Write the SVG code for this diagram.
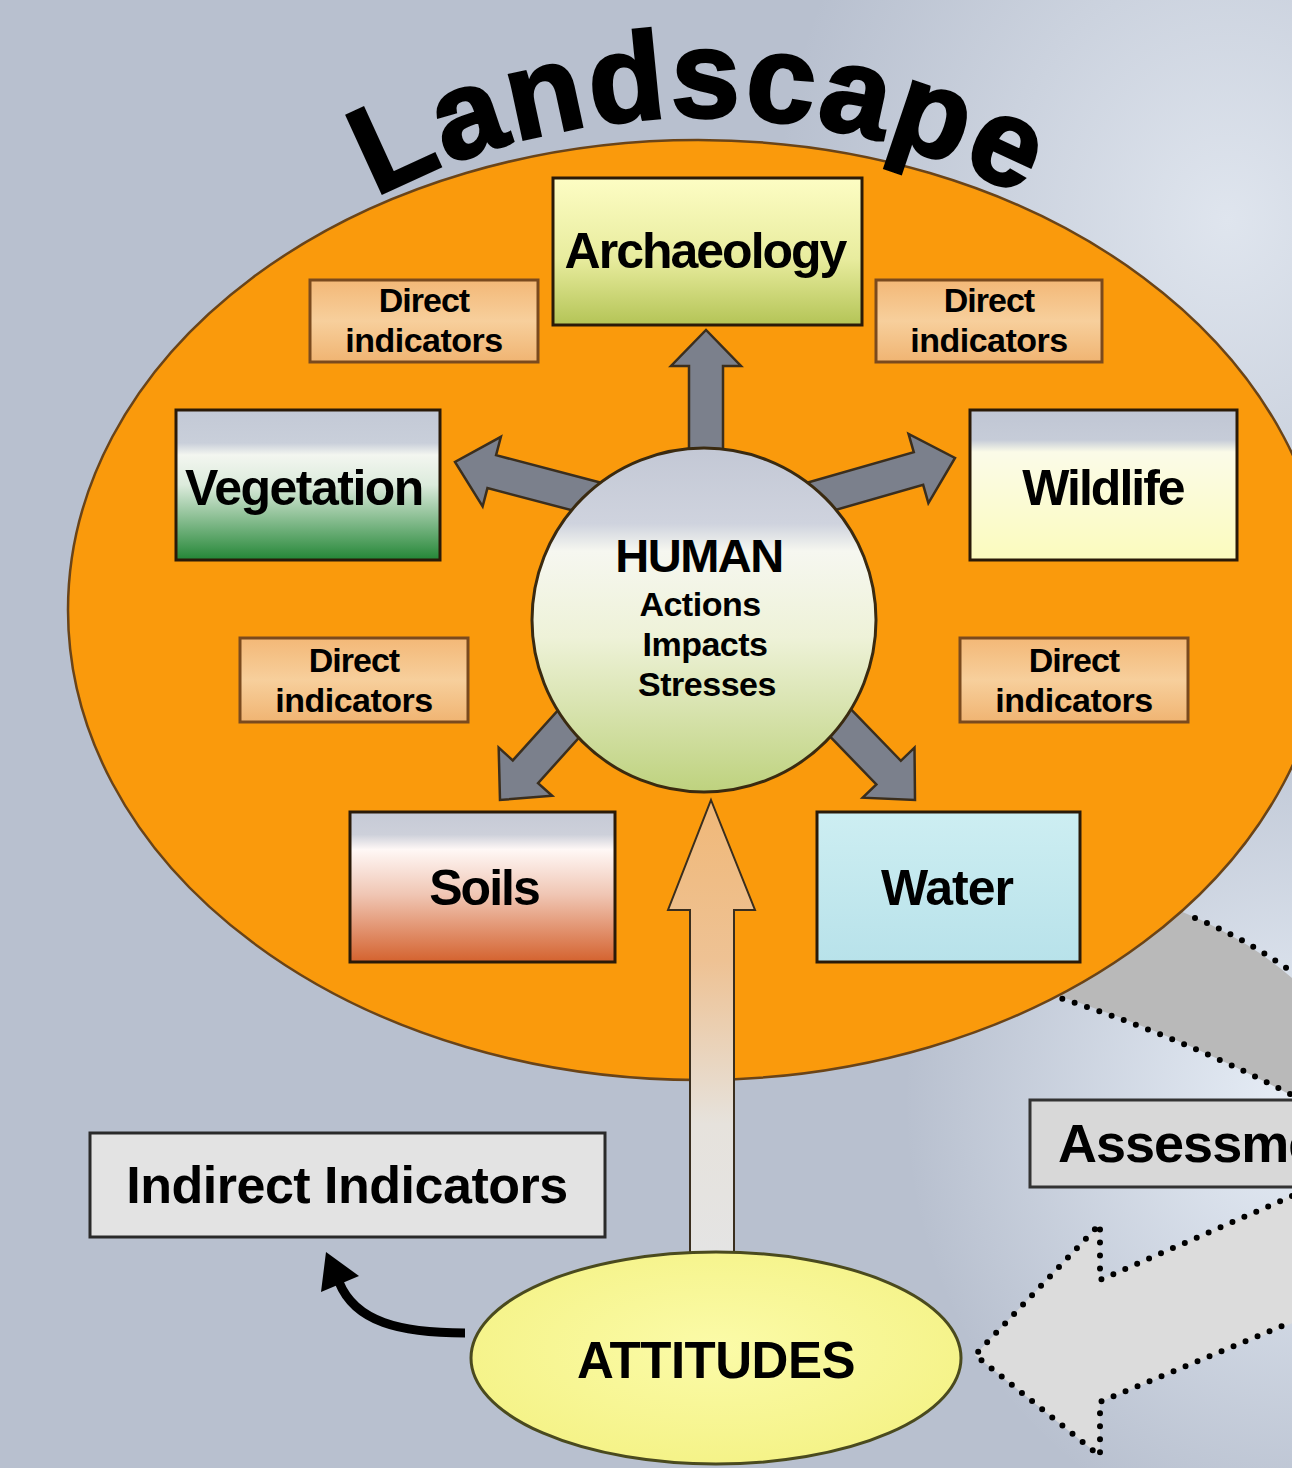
<svg xmlns="http://www.w3.org/2000/svg" width="1292" height="1468" viewBox="0 0 1292 1468">
<defs>
<style>
.t{font-family:"Liberation Sans",Arial,sans-serif;font-weight:bold;fill:#000;text-anchor:middle}
.box{stroke:#2a1a08;stroke-width:3}
.di{fill:url(#gDi);stroke:#7a4a1e;stroke-width:3}
.garrow{fill:#7b808c;stroke:#3a2e1e;stroke-width:2.5}
.dot{fill:none;stroke:#000;stroke-width:6;stroke-linecap:round;stroke-dasharray:0 13}
</style>
<radialGradient id="bgA" cx="0.95" cy="0.15" r="0.35"><stop offset="0" stop-color="#dfe5ee"/><stop offset="1" stop-color="#dfe5ee" stop-opacity="0"/></radialGradient>
<radialGradient id="bgB" cx="1" cy="0.75" r="0.3"><stop offset="0" stop-color="#e6edf6"/><stop offset="1" stop-color="#e6edf6" stop-opacity="0"/></radialGradient>
<linearGradient id="gArch" x1="0" y1="0" x2="0" y2="1"><stop offset="0" stop-color="#fdfdc4"/><stop offset="0.55" stop-color="#e8ec9e"/><stop offset="1" stop-color="#b4c456"/></linearGradient>
<linearGradient id="gVeg" x1="0" y1="0" x2="0" y2="1"><stop offset="0" stop-color="#c3c9d6"/><stop offset="0.22" stop-color="#c9cfda"/><stop offset="0.3" stop-color="#f3f6f0"/><stop offset="0.5" stop-color="#dcebdc"/><stop offset="1" stop-color="#238636"/></linearGradient>
<linearGradient id="gWild" x1="0" y1="0" x2="0" y2="1"><stop offset="0" stop-color="#c0c6d4"/><stop offset="0.2" stop-color="#c6ccd8"/><stop offset="0.28" stop-color="#fbfbe8"/><stop offset="1" stop-color="#fbfbbd"/></linearGradient>
<linearGradient id="gSoil" x1="0" y1="0" x2="0" y2="1"><stop offset="0" stop-color="#c6cad6"/><stop offset="0.15" stop-color="#cdd0da"/><stop offset="0.25" stop-color="#fff8f6"/><stop offset="0.55" stop-color="#f0c6b4"/><stop offset="1" stop-color="#d4622e"/></linearGradient>
<linearGradient id="gWater" x1="0" y1="0" x2="0" y2="1"><stop offset="0" stop-color="#cdeef2"/><stop offset="1" stop-color="#b8e2ea"/></linearGradient>
<linearGradient id="gDi" x1="0" y1="0" x2="0" y2="1"><stop offset="0" stop-color="#f3b877"/><stop offset="0.5" stop-color="#f7cf9c"/><stop offset="1" stop-color="#f0b472"/></linearGradient>
<linearGradient id="gHum" x1="0" y1="0" x2="0" y2="1"><stop offset="0" stop-color="#c3c8d5"/><stop offset="0.22" stop-color="#cfd3de"/><stop offset="0.3" stop-color="#f6f7f0"/><stop offset="0.55" stop-color="#eef2d8"/><stop offset="1" stop-color="#bed27e"/></linearGradient>
<linearGradient id="gTan" x1="0" y1="0" x2="0" y2="1"><stop offset="0" stop-color="#f0b878"/><stop offset="0.35" stop-color="#eec294"/><stop offset="0.7" stop-color="#e6e2dc"/><stop offset="1" stop-color="#e4e4e4"/></linearGradient>
<radialGradient id="gAtt" cx="0.5" cy="0.45" r="0.6"><stop offset="0" stop-color="#fbfba8"/><stop offset="1" stop-color="#f4f285"/></radialGradient>
<path id="arcL" d="M 253 280 A 695 695 0 0 1 1147 280"/>
</defs>

<!-- background -->
<rect x="0" y="0" width="1292" height="1468" fill="#b8c0cf"/>
<rect x="0" y="0" width="1292" height="1468" fill="url(#bgA)"/>
<rect x="0" y="0" width="1292" height="1468" fill="url(#bgB)"/>

<!-- upper gray dotted band (behind ellipse) -->
<g id="cycle-upper">
<path d="M 1040 990 Q 1170 1030 1300 1100 L 1300 985 Q 1240 930 1150 900 Z" fill="#b9b9b9"/>
<path class="dot" d="M 1050 995 Q 1170 1032 1292 1095"/>
<path class="dot" d="M 1195 918 Q 1245 938 1292 972"/>
</g>

<!-- landscape ellipse -->
<g id="landscape">
<ellipse cx="698" cy="610" rx="630" ry="470" fill="#fa9a0c" stroke="#6a4418" stroke-width="2.5"/>
<text class="t" font-size="124" letter-spacing="3" stroke="#000" stroke-width="3"><textPath href="#arcL" startOffset="50%">Landscape</textPath></text>
</g>

<!-- connectors -->
<g id="connectors">
<path class="garrow" transform="translate(706,330) rotate(-90)" d="M -135 -17 L -36 -17 L -36 -35 L 0 0 L -36 35 L -36 17 L -135 17 Z"/>
<path class="garrow" transform="translate(455,462) rotate(194.7)" d="M -170 -17 L -38 -17 L -38 -36 L 0 0 L -38 36 L -38 17 L -170 17 Z"/>
<path class="garrow" transform="translate(955,458) rotate(-16)" d="M -170 -17 L -38 -17 L -38 -36 L 0 0 L -38 36 L -38 17 L -170 17 Z"/>
<path class="garrow" transform="translate(500,800) rotate(132)" d="M -150 -17 L -38 -17 L -38 -36 L 0 0 L -38 36 L -38 17 L -150 17 Z"/>
<path class="garrow" transform="translate(915,800) rotate(46)" d="M -150 -17 L -38 -17 L -38 -36 L 0 0 L -38 36 L -38 17 L -150 17 Z"/>
<path d="M 711 800 L 755 910 L 734 910 L 734 1262 L 690 1262 L 690 910 L 668 910 Z" fill="url(#gTan)" stroke="#3a2e1e" stroke-width="2"/>
<path d="M 465 1333 C 400 1333 355 1322 339 1282" fill="none" stroke="#000" stroke-width="9"/>
<polygon points="326,1252 359,1276 321,1292" fill="#000"/>
</g>

<!-- nodes -->
<g id="archaeology">
<rect class="box" x="553" y="178" width="309" height="147" fill="url(#gArch)"/>
<text class="t" x="705" y="268" font-size="50" letter-spacing="-2">Archaeology</text>
</g>
<g id="di1">
<rect class="di" x="310" y="280" width="228" height="82"/>
<text class="t" x="424" y="312" font-size="34" letter-spacing="-1">Direct</text>
<text class="t" x="424" y="352" font-size="34" letter-spacing="-0.5">indicators</text>
</g>
<g id="di2">
<rect class="di" x="876" y="280" width="226" height="82"/>
<text class="t" x="989" y="312" font-size="34" letter-spacing="-1">Direct</text>
<text class="t" x="989" y="352" font-size="34" letter-spacing="-0.5">indicators</text>
</g>
<g id="di3">
<rect class="di" x="240" y="638" width="228" height="84"/>
<text class="t" x="354" y="672" font-size="34" letter-spacing="-1">Direct</text>
<text class="t" x="354" y="712" font-size="34" letter-spacing="-0.5">indicators</text>
</g>
<g id="di4">
<rect class="di" x="960" y="638" width="228" height="84"/>
<text class="t" x="1074" y="672" font-size="34" letter-spacing="-1">Direct</text>
<text class="t" x="1074" y="712" font-size="34" letter-spacing="-0.5">indicators</text>
</g>
<g id="vegetation">
<rect class="box" x="176" y="410" width="264" height="150" fill="url(#gVeg)"/>
<text class="t" x="304" y="505" font-size="50" letter-spacing="-1.5">Vegetation</text>
</g>
<g id="wildlife">
<rect class="box" x="970" y="410" width="267" height="150" fill="url(#gWild)"/>
<text class="t" x="1103" y="505" font-size="50" letter-spacing="-2">Wildlife</text>
</g>
<g id="soils">
<rect class="box" x="350" y="812" width="265" height="150" fill="url(#gSoil)"/>
<text class="t" x="484" y="905" font-size="50" letter-spacing="-2">Soils</text>
</g>
<g id="water">
<rect class="box" x="817" y="812" width="263" height="150" fill="url(#gWater)"/>
<text class="t" x="947" y="905" font-size="50" letter-spacing="-1">Water</text>
</g>
<g id="human">
<circle cx="704" cy="620" r="172" fill="url(#gHum)" stroke="#3a2a10" stroke-width="3"/>
<text class="t" x="699" y="572" font-size="47" letter-spacing="-1.5">HUMAN</text>
<text class="t" x="700" y="616" font-size="34" letter-spacing="-0.5">Actions</text>
<text class="t" x="705" y="656" font-size="34" letter-spacing="-0.5">Impacts</text>
<text class="t" x="707" y="696" font-size="34" letter-spacing="-0.5">Stresses</text>
</g>
<g id="indirect">
<rect x="90" y="1133" width="515" height="104" fill="#e3e3e3" stroke="#2a2a2a" stroke-width="3"/>
<text class="t" x="347" y="1203" font-size="52" letter-spacing="-0.5">Indirect Indicators</text>
</g>
<g id="attitudes">
<ellipse cx="716" cy="1358" rx="245" ry="106" fill="url(#gAtt)" stroke="#4a4a1e" stroke-width="3"/>
<text class="t" x="716" y="1378" font-size="51" letter-spacing="-0.5">ATTITUDES</text>
</g>
<g id="cycle-lower">
<path d="M 975 1355 L 1100 1224 L 1100 1280 L 1300 1192 L 1300 1320 L 1100 1402 L 1100 1456 Z" fill="#dcdcdc"/>
<path class="dot" d="M 1292 1196 L 1100 1280 L 1100 1224 L 975 1355 L 1100 1456 L 1100 1402 L 1292 1322"/>
</g>
<g id="assessment">
<rect x="1030" y="1100" width="300" height="87" fill="#d8d8d8" stroke="#333" stroke-width="3"/>
<text class="t" x="1058" y="1162" font-size="54" letter-spacing="-1" style="text-anchor:start">Assessment</text>
</g>
</svg>
